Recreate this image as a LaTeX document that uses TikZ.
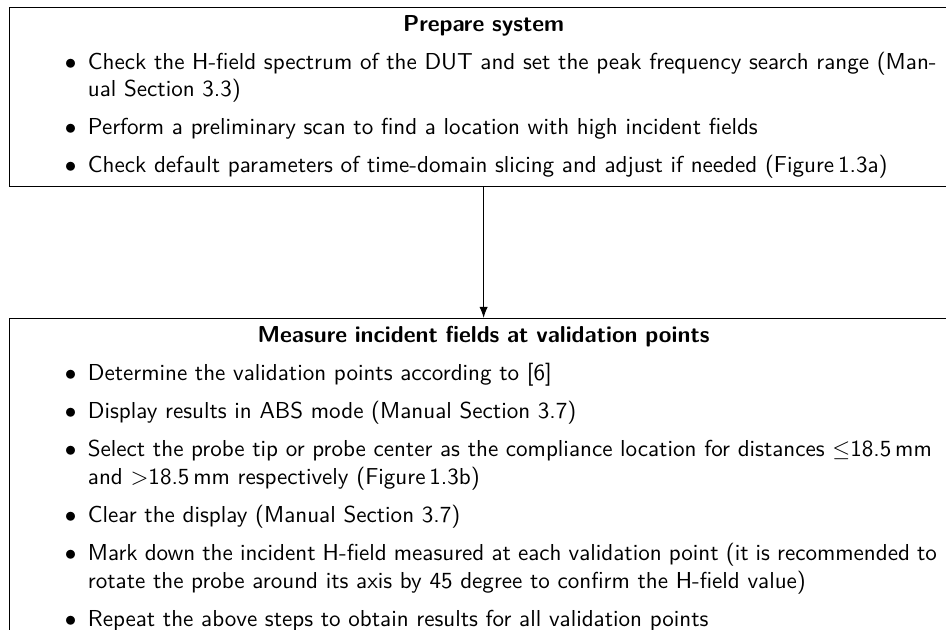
\documentclass[tikz,border=0pt]{standalone}
\usetikzlibrary{arrows.meta}

% one bulleted entry, laid out like a standard itemize item
\newcommand\stepitem[1]{\par\vspace{4.5pt}%
  {\leftskip=25pt\noindent\llap{$\bullet$\hspace{5pt}}#1\par}}
\newcommand\steptitle[1]{{\centering\bfseries #1\par}}
% slightly more shrinkable word spaces for a crowded paragraph
\newcommand\tightspaces{\spaceskip=0.3333em plus 0.1667em minus 0.24em\relax}

\tikzset{
  stepbox/.style={draw, line width=0.4pt, anchor=north west,
    text width=393pt, inner xsep=9pt, inner ysep=3.33pt, font=\sffamily},
  flow/.style={-{Latex}, line width=0.4pt}
}

\begin{document}
\begin{tikzpicture}
\useasboundingbox (0,0) rectangle (410pt,-273.04pt);

\node[stepbox] (prep) at (3.9pt,-3.0pt) {%
  \steptitle{Prepare system}%
  \stepitem{Check the H-field spectrum of the DUT and set the peak frequency search range (Manual Section 3.3)}%
  \stepitem{Perform a preliminary scan to find a location with high incident fields}%
  \stepitem{Check default parameters of time-domain slicing and adjust if needed (Figure\,1.3a)}%
};

\node[stepbox] (meas) at (3.9pt,-137.8pt) {%
  \steptitle{Measure incident fields at validation points}%
  \stepitem{Determine the validation points according to [6]}%
  \stepitem{Display results in ABS mode (Manual Section 3.7)}%
  \stepitem{Select the probe tip or probe center as the compliance location for distances $\leq$18.5\,mm and $>$18.5\,mm respectively (Figure\,1.3b)}%
  \stepitem{Clear the display (Manual Section 3.7)}%
  \stepitem{\tightspaces Mark down the incident H-field measured at each validation point (it is recommended to\linebreak rotate the probe around its axis by 45 degree to confirm the H-field value)}%
  \stepitem{Repeat the above steps to obtain results for all validation points}%
};

\draw[flow] (prep.south) -- (meas.north);
\end{tikzpicture}
\end{document}
